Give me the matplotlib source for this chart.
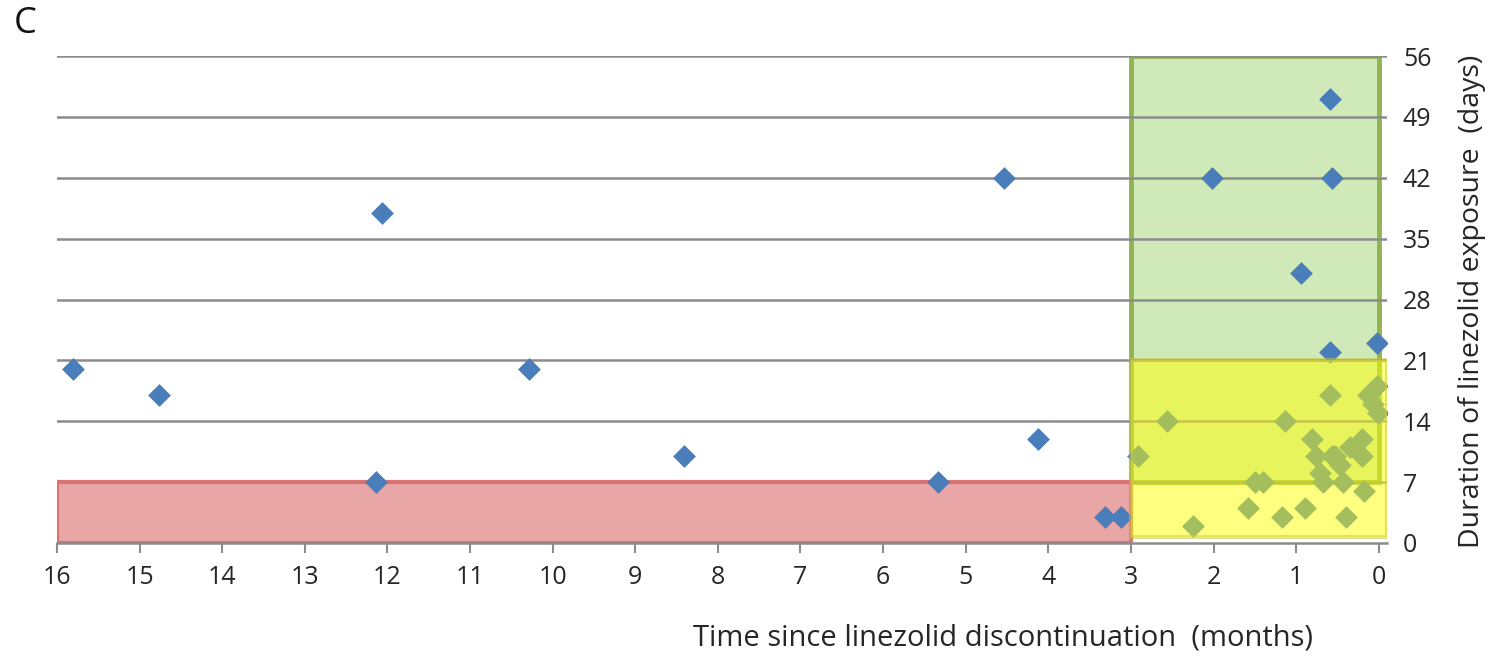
import matplotlib.pyplot as plt
from matplotlib.patches import Rectangle
import numpy as np

plt.rcParams['font.family'] = ['Open Sans', 'DejaVu Sans']

# months since discontinuation, days of exposure
months = [15.81, 14.76, 12.06, 12.14, 10.29, 8.41, 5.34, 4.54, 4.13, 3.31, 3.12,
          2.02, 0.59, 0.57, 0.94, 0.59, 0.02,
          2.92, 2.56, 2.25, 1.58, 1.50, 1.40, 1.17, 1.13, 0.89, 0.81, 0.76, 0.71,
          0.67, 0.59, 0.57, 0.53, 0.47, 0.43, 0.40, 0.35, 0.20, 0.20, 0.18, 0.13,
          0.07, 0.02, 0.01]
days = [20, 17, 38, 7, 20, 10, 7, 42, 12, 3, 3,
        42, 51, 42, 31, 22, 23,
        10, 14, 2, 4, 7, 7, 3, 14, 4, 12, 10, 8,
        7, 17, 10, 10, 9, 7, 3, 11, 12, 10, 6, 17,
        16, 18, 15]

x_ticks = list(range(16, -1, -1))
y_ticks = [0, 7, 14, 21, 28, 35, 42, 49, 56]

# thresholds for shaded regions
t_recent = 3      # months
d_short = 7       # days
d_mid = 21        # days

fig = plt.figure(figsize=(14.93, 6.6), dpi=100)
ax = fig.add_axes([57/1493, 1 - 543/660, 1330/1493, 487/660])
ax.set_xlim(16, -0.1)
ax.set_ylim(0, 56)

# green region (long exposure, recent)
ax.add_patch(Rectangle((t_recent, d_short), -t_recent, 56 - d_short,
                       facecolor='#d0e9b9', edgecolor='#8fb552', lw=3.5, zorder=0.5))
# red region (short exposure, old)
ax.add_patch(Rectangle((16, 0), t_recent - 16, d_short,
                       facecolor='#e8a6a6', edgecolor='#d87373', lw=3, zorder=1.5))

for y in y_ticks[1:]:
    ax.axhline(y, color='#8c8c8c', lw=1.8, zorder=1)

ax.scatter(months, days, marker='D', s=135, color='#4a7ebb', linewidths=0, zorder=3)

# yellow overlay region
ax.add_patch(Rectangle((t_recent, 0.7), -t_recent - 0.1, d_mid - 0.7,
                       facecolor='#ffff00', edgecolor='#c8c83c', alpha=0.5, lw=3, zorder=4))

ax.set_xticks(x_ticks)
ax.set_xticklabels([str(v) for v in x_ticks])
ax.set_yticks(y_ticks)
ax.yaxis.tick_right()
ax.tick_params(axis='y', length=0, pad=11.5, labelsize=18, labelcolor='#262626')
ax.tick_params(axis='x', length=7, width=1.5, color='#8c8c8c', direction='out',
               pad=9, labelsize=18, labelcolor='#262626')
for s in ['left', 'top', 'right']:
    ax.spines[s].set_visible(False)
ax.spines['bottom'].set_color('#8c8c8c')
ax.spines['bottom'].set_linewidth(1.8)

fig.text(1472/1493, 1 - 301/660, 'Duration of linezolid exposure  (days)',
         rotation=90, ha='center', va='center', fontsize=20.5, color='#262626')
fig.text(1003/1493, 1 - 638/660, 'Time since linezolid discontinuation  (months)',
         ha='center', va='center', fontsize=21, color='#262626')
fig.text(14/1493, 1 - 24/660, 'C', ha='left', va='center', fontsize=26, color='#111111')

fig.savefig('out.png', dpi=100)
